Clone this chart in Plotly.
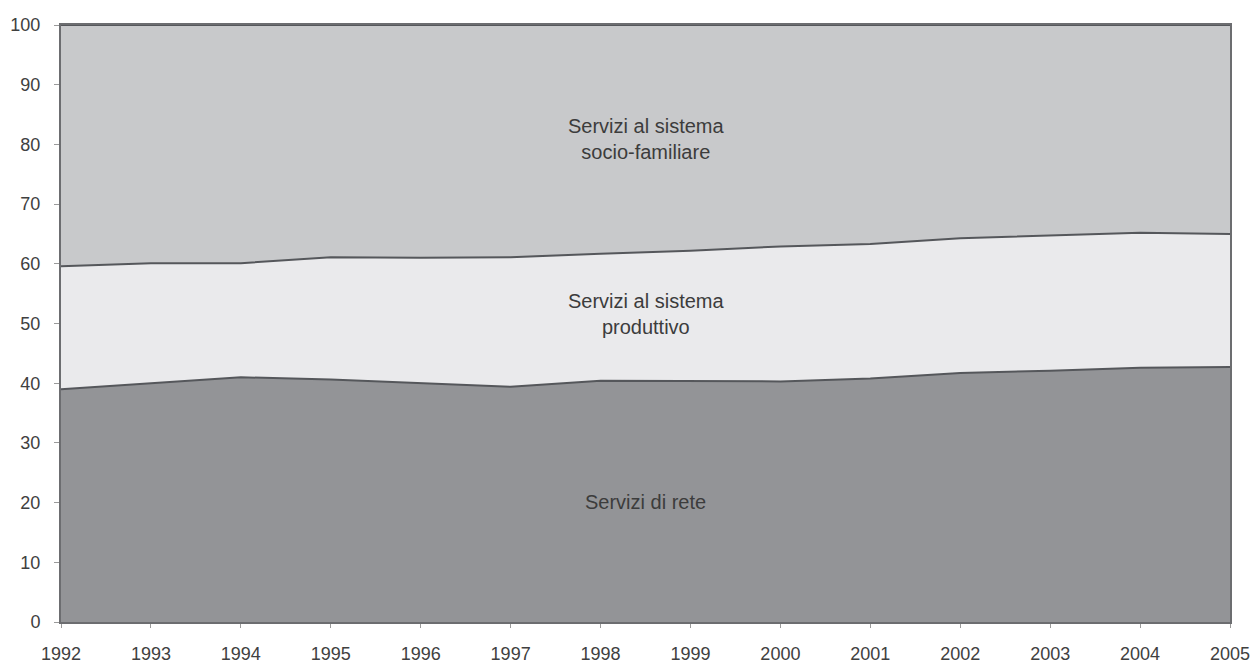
import plotly.graph_objects as go

years = list(range(1992, 2006))
servizi_rete = [39.0, 40.0, 41.0, 40.6, 40.0, 39.4, 40.4, 40.4, 40.3, 40.8, 41.7, 42.1, 42.6, 42.7]
servizi_produttivo = [20.6, 20.1, 19.1, 20.5, 21.0, 21.7, 21.3, 21.8, 22.6, 22.5, 22.6, 22.6, 22.6, 22.3]
servizi_socio = [40.4, 39.9, 39.9, 38.9, 39.0, 38.9, 38.3, 37.8, 37.1, 36.7, 35.7, 35.3, 34.8, 35.0]

series = [
    ("Servizi di rete", servizi_rete, "#939497"),
    ("Servizi al sistema produttivo", servizi_produttivo, "#eaeaec"),
    ("Servizi al sistema socio-familiare", servizi_socio, "#c8c9cb"),
]

fig = go.Figure()
for name, vals, col in series:
    fig.add_trace(go.Scatter(
        x=years, y=vals, name=name, stackgroup="one", mode="lines",
        line=dict(color="#55575b", width=2), fillcolor=col,
    ))

labels = [
    (1998.5, 80.9, "Servizi al sistema<br>socio-familiare"),
    (1998.5, 51.6, "Servizi al sistema<br>produttivo"),
    (1998.5, 20.1, "Servizi di rete"),
]
for x, y, t in labels:
    fig.add_annotation(x=x, y=y, text=t, showarrow=False,
                       font=dict(family="Liberation Sans, Arial", size=20, color="#3c3c3c"))

fig.update_layout(
    width=1258, height=664, showlegend=False,
    paper_bgcolor="white", plot_bgcolor="white",
    margin=dict(l=61, r=28, t=25, b=42, autoexpand=False),
    font=dict(family="Liberation Sans, Arial", size=18, color="#404040"),
)
fig.update_xaxes(range=[1992, 2005], tickmode="array", tickvals=years,
                 showgrid=False, zeroline=False, showline=True, linecolor="#6c6d70",
                 linewidth=2, mirror=True, ticks="outside", ticklen=4, tickcolor="#9a9a9a",
                 ticklabelstandoff=10)
fig.update_yaxes(range=[0, 100], dtick=10, showgrid=False, zeroline=False,
                 showline=True, linecolor="#6c6d70", linewidth=2, mirror=True,
                 ticks="outside", ticklen=5, tickcolor="#9a9a9a", ticklabelstandoff=10)

fig.write_html("out.html", config={"displayModeBar": False},
               post_script="document.body.style.margin='0';document.body.style.overflow='hidden';")
